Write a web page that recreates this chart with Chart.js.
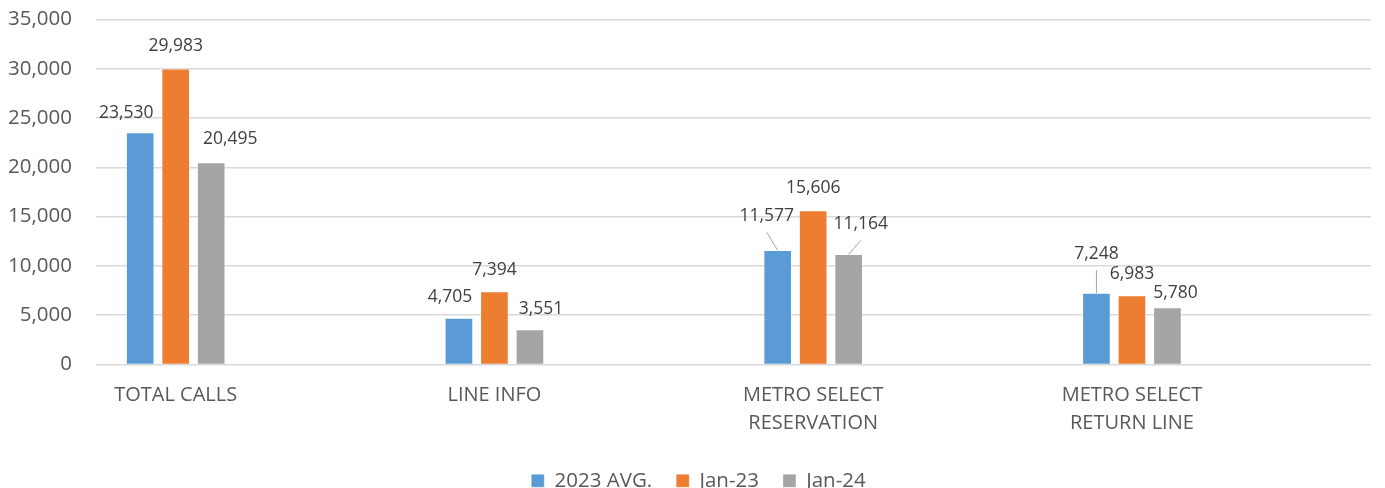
<!DOCTYPE html>
<html>
<head>
<meta charset="utf-8">
<script src="https://cdn.jsdelivr.net/npm/chart.js@4.4.1/dist/chart.umd.min.js"></script>
<style>
  html, body { margin: 0; padding: 0; background: #fff; }
</style>
</head>
<body>
<canvas id="callsChart" width="1385" height="488"></canvas>
<script>
const categories = ['TOTAL CALLS', 'LINE INFO', ['METRO SELECT', 'RESERVATION'], ['METRO SELECT', 'RETURN LINE']];
const seriesNames = ['2023 AVG.', 'Jan-23', 'Jan-24'];
const avg2023 = [23530, 4705, 11577, 7248];
const jan23 = [29983, 7394, 15606, 6983];
const jan24 = [20495, 3551, 11164, 5780];
const yTicks = [0, 5000, 10000, 15000, 20000, 25000, 30000, 35000];

const colors = ['#5b9bd5', '#ed7d31', '#a5a5a5'];
const textColor = '#595959';
const fontFamily = '"Open Sans", "Noto Sans", sans-serif';

// label placement relative to the bar top: [dx, dy, leader line]
const labelOffsets = [
    [[-14, -20, false], [-9, -21, false], [-11, -34, true], [0, -39, true]],
    [[0, -23, false], [0, -22, false], [0, -23, false], [0, -22, false]],
    [[19, -23, false], [11, -20, false], [12, -30, true], [8, -15, false]]
];

function toPoints(values) {
    return values.map((v, i) => ({ x: i, y: v }));
}

const barLabels = {
    id: 'barLabels',
    afterLayout(chart) {
        // nudge the legend down and a bit right, like the original
        const lg = chart.legend;
        lg.left += 13;
        lg.right += 13;
        lg.top += 13;
        lg.bottom += 13;
    },
    afterDatasetsDraw(chart) {
        const ctx = chart.ctx;
        ctx.save();
        ctx.font = '17.5px ' + fontFamily;
        ctx.fillStyle = '#404040';
        ctx.textAlign = 'center';
        ctx.textBaseline = 'middle';
        chart.data.datasets.forEach((ds, di) => {
            chart.getDatasetMeta(di).data.forEach((bar, i) => {
                const off = labelOffsets[di][i];
                const lx = bar.x + off[0];
                const ly = bar.y + off[1];
                if (off[2]) {
                    ctx.strokeStyle = '#a6a6a6';
                    ctx.lineWidth = 1;
                    ctx.beginPath();
                    ctx.moveTo(lx, ly + 16);
                    ctx.lineTo(bar.x, bar.y);
                    ctx.stroke();
                }
                ctx.fillText(ds.data[i].y.toLocaleString('en-US'), lx, ly);
            });
        });
        ctx.restore();
    }
};

new Chart(document.getElementById('callsChart'), {
    type: 'bar',
    data: {
        datasets: [avg2023, jan23, jan24].map((values, i) => ({
            label: seriesNames[i],
            data: toPoints(values),
            backgroundColor: colors[i],
            borderColor: 'rgba(255,255,255,0.35)',
            borderWidth: 1,
            barThickness: 35.5,
            maxBarThickness: 28
        }))
    },
    options: {
        responsive: false,
        animation: false,
        layout: { padding: { top: 19.5, right: 14, bottom: 0, left: 0 } },
        scales: {
            x: {
                type: 'linear',
                min: -0.25,
                max: 3.75,
                offset: false,
                grid: { display: false, offset: false, drawTicks: false },
                border: { display: false },
                afterBuildTicks: (s) => { s.ticks = categories.map((c, i) => ({ value: i })); },
                afterFit: (s) => { s.height = 69; },
                ticks: {
                    autoSkip: false,
                    maxRotation: 0,
                    padding: 17,
                    color: textColor,
                    font: { family: fontFamily, size: 20, lineHeight: 1.4 },
                    callback: (v) => categories[v]
                }
            },
            y: {
                min: 0,
                max: 35000,
                border: { display: false },
                grid: { color: '#d9d9d9', lineWidth: 1.5, drawTicks: false },
                afterBuildTicks: (s) => { s.ticks = yTicks.map(v => ({ value: v })); },
                afterFit: (s) => {
                    s.width = 96;
                    s.paddingTop = 0;
                    s.paddingBottom = 0;
                },
                ticks: {
                    padding: 24,
                    color: textColor,
                    font: { family: fontFamily, size: 20.5 },
                    callback: (v) => v.toLocaleString('en-US')
                }
            }
        },
        plugins: {
            legend: {
                position: 'bottom',
                labels: {
                    boxWidth: 13,
                    boxHeight: 13,
                    padding: 24,
                    color: textColor,
                    font: { family: fontFamily, size: 20.5 }
                }
            },
            tooltip: { enabled: false }
        }
    },
    plugins: [barLabels]
});
</script>
</body>
</html>
